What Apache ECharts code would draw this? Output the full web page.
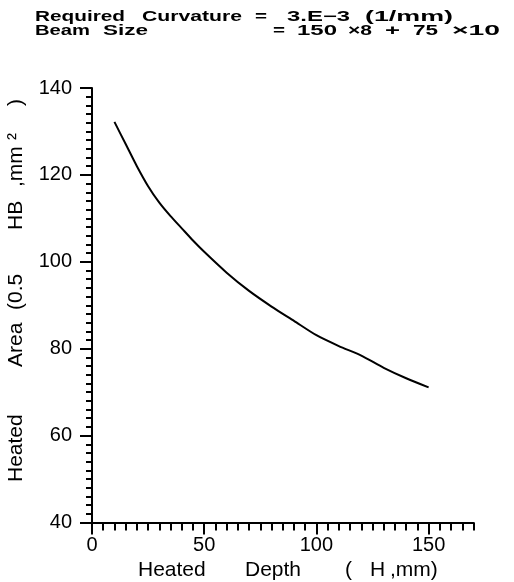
<!DOCTYPE html>
<html>
<head>
<meta charset="utf-8">
<script src="https://cdn.jsdelivr.net/npm/echarts@6/dist/echarts.min.js"></script>
<style>
  html, body { margin: 0; padding: 0; background: #fff; }
  #chart { width: 514px; height: 582px; }
</style>
</head>
<body>
<div id="chart"></div>
<script>
// heated depth H (mm) vs heated area 0.5*H*B (mm^2)
const depth = [10, 15, 20, 25, 30, 35, 40, 45, 50, 60, 70, 80, 90, 100, 110, 120, 130, 140, 150]
const area = [132.2, 127.1, 122.0, 117.4, 113.6, 110.5, 107.7, 104.9, 102.3, 97.5, 93.3, 89.7, 86.4, 83.1, 80.6, 78.4, 75.6, 73.2, 71.1]

const xTicks = [0, 50, 100, 150]
const yTicks = [40, 60, 80, 100, 120, 140]

const FONT = '"Liberation Sans", Arial, sans-serif'
const INK = '#000'

// title words: [text, left, right, cap centre] - plotter font is wide, so stretch each word
const titleWords = [
  ['Required', 35, 125, 17.5], ['Curvature', 142, 242, 17.5], ['=', 255, 267, 17.5],
  ['3.E\u22123', 287, 350, 17.5], ['(1/mm)', 365, 453, 17.5],
  ['Beam', 35, 90, 31.5], ['Size', 103, 148, 31.5], ['=', 273, 285, 31.5], ['150', 297, 337, 31.5],
  ['\u00d78', 348, 372, 31.5], ['+', 385, 400, 31.5], ['75', 413, 438, 31.5], ['\u00d710', 452, 500, 31.5]
]
const xNameWords = [['Heated', 138], ['Depth', 245], ['(', 345], ['H', 370], [',mm)', 390]]
const yNameWords = [['Heated', 482], ['Area', 367], ['(0.5', 310], ['HB', 230], [',mm', 187], ['\u00b2', 140], [')', 106]]

const chart = echarts.init(document.getElementById('chart'))

const lineStyle = { color: INK, width: 2 }

const titleFont = `bold 14px ${FONT}`
const ctx = document.createElement('canvas').getContext('2d')
ctx.font = titleFont

const graphic = []
titleWords.forEach(([t, x0, x1, y]) => {
  const w = ctx.measureText(t).width
  graphic.push({
    type: 'text', x: x0, y, scaleX: (x1 - x0) / w,
    style: { text: t, font: titleFont, fill: INK, align: 'left', verticalAlign: 'middle' }
  })
})
xNameWords.forEach(([t, x]) => {
  graphic.push({
    type: 'text', x, y: 570,
    style: { text: t, font: `21px ${FONT}`, fill: INK, align: 'left', verticalAlign: 'middle' }
  })
})
yNameWords.forEach(([t, y]) => {
  graphic.push({
    type: 'text', x: 16, y, rotation: Math.PI / 2,
    style: { text: t, font: `21px ${FONT}`, fill: INK, align: 'left', verticalAlign: 'middle' }
  })
})

chart.setOption({
  animation: false,
  backgroundColor: '#fff',
  grid: { left: 92, top: 88, right: 40.5, bottom: 59.5 },
  xAxis: [
    {
      type: 'value', min: 0, max: 170, position: 'bottom',
      axisLine: { show: true, onZero: false, lineStyle },
      axisTick: { show: true, length: 12, lineStyle, customValues: xTicks },
      axisLabel: { customValues: xTicks, margin: 13, color: INK, fontSize: 20, fontFamily: FONT },
      splitLine: { show: false }
    },
    {
      type: 'value', min: 0, max: 170, interval: 5, position: 'bottom',
      axisLine: { show: false },
      axisTick: { show: true, length: 8, lineStyle },
      axisLabel: { show: false },
      splitLine: { show: false }
    }
  ],
  yAxis: [
    {
      type: 'value', min: 40, max: 140, position: 'left',
      axisLine: { show: true, onZero: false, lineStyle },
      axisTick: { show: true, length: 12, lineStyle, customValues: yTicks },
      axisLabel: { customValues: yTicks, margin: 20, color: INK, fontSize: 20, fontFamily: FONT },
      splitLine: { show: false }
    },
    {
      type: 'value', min: 40, max: 140, interval: 2, position: 'left',
      axisLine: { show: false },
      axisTick: { show: true, length: 6, lineStyle },
      axisLabel: { show: false },
      splitLine: { show: false }
    }
  ],
  graphic,
  series: [
    {
      type: 'line',
      xAxisIndex: 0,
      yAxisIndex: 0,
      data: depth.map((d, i) => [d, area[i]]),
      smooth: 0.25,
      showSymbol: false,
      lineStyle: { color: INK, width: 2 }
    }
  ]
})
</script>
</body>
</html>
